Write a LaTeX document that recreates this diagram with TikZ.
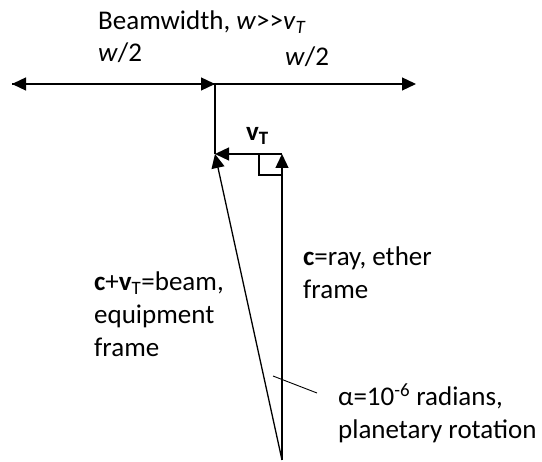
\documentclass[tikz,border=0pt]{standalone}
\usepackage{fontspec}
\setmainfont{Carlito}
\usepackage{tikz}
\usetikzlibrary{arrows.meta}

\begin{document}
\begin{tikzpicture}[
    x=1pt, y=-1pt,
    font=\fontsize{27}{33}\selectfont,
    lbl/.style={inner sep=0pt, anchor=base west, align=left},
    arr/.style={-{Triangle[length=14pt,width=13pt]}, line width=1.3pt},
    ln/.style={line width=1.3pt},
  ]
    \useasboundingbox (0,0) rectangle (542,462);

    % points of the figure
    \coordinate (lend) at (12,84);
    \coordinate (mid)  at (215,84);
    \coordinate (rend) at (416,84);
    \coordinate (tip)  at (215,154);
    \coordinate (ctop) at (282,154);
    \coordinate (orig) at (282,460);

    % beamwidth line
    \draw[arr] (mid) -- (lend);
    \draw[arr] (lend) -- (mid);
    \draw[arr] (mid) -- (rend);
    \draw[ln]  (mid) -- (tip);

    % velocity triangle
    \draw[arr] (ctop) -- (tip);
    \draw[arr] (orig) -- (ctop);
    \draw[arr] (orig) -- (tip);
    \draw[line width=1.8pt] (259,154) -- (259,175) -- (282,175);

    % labels (base = last line)
    \node[lbl] (title) at (98,30)  {Beamwidth, \textit{w}>{}>\textit{v}\textsubscript{\textit{T}}};
    \node[lbl] (wl)    at (98,62)  {\textit{w}/2};
    \node[lbl] (wr)    at (285,66) {\textit{w}/2};
    \node[lbl] (vt)    at (246,141){\textbf{v}\textsubscript{\textbf{T}}};
    \node[lbl] (ray)   at (303,299){\textbf{c}=ray, ether\\frame};
    \node[lbl] (beam)  at (94,357) {\textbf{c}+\textbf{v}\textsubscript{T}=beam,\\equipment\\frame};
    \node[lbl] (alpha) at (338,439){α=10\textsuperscript{-6} radians,\\planetary rotation};

    \coordinate (mark) at (273,376);
    \draw[line width=0.9pt] (mark) -- (317,393);
  \end{tikzpicture}
\end{document}
